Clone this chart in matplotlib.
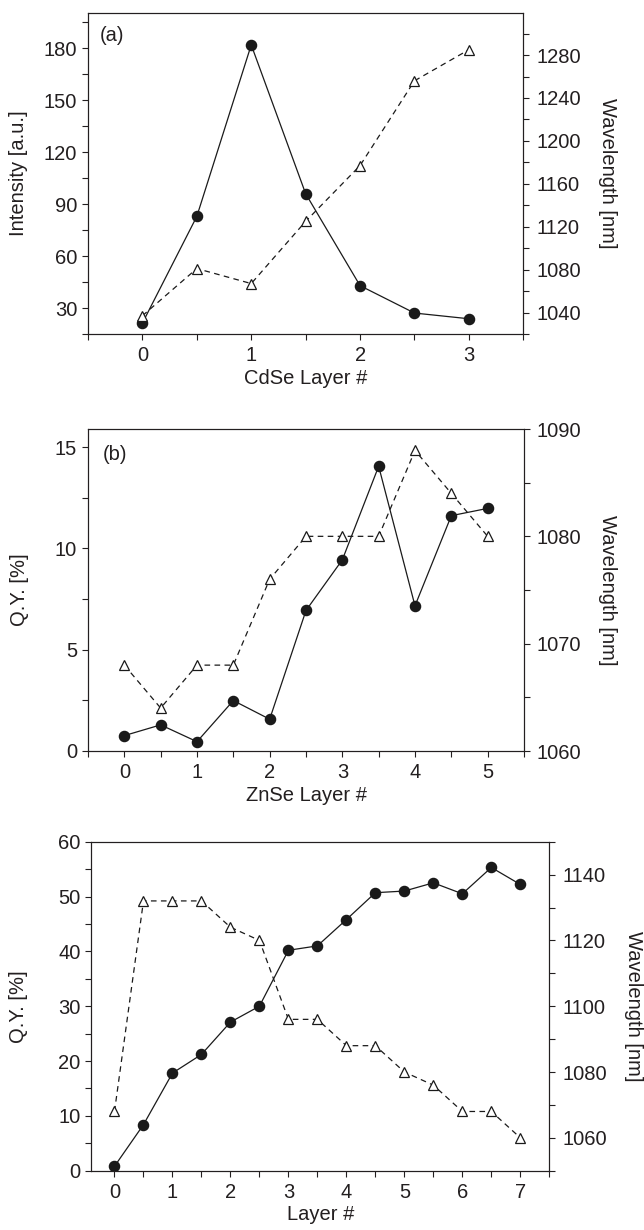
import matplotlib
matplotlib.use('Agg')
import matplotlib.pyplot as plt
from matplotlib.ticker import MultipleLocator

plt.rcParams['font.family'] = ['Liberation Sans', 'DejaVu Sans']
plt.rcParams['font.size'] = 14.5
plt.rcParams['text.color'] = '#231f20'
plt.rcParams['axes.labelcolor'] = '#231f20'
plt.rcParams['xtick.color'] = '#231f20'
plt.rcParams['ytick.color'] = '#231f20'

# panel (a): CdSe layers
layers_a = [0, 0.5, 1, 1.5, 2, 2.5, 3]
intensity_a = [21.3, 82.9, 181.9, 96.0, 42.9, 27.1, 23.8]
wavelength_a = [1037, 1081, 1067, 1125, 1177, 1256, 1285]

# panel (b): ZnSe layers
layers_b = [0, 0.5, 1, 1.5, 2, 2.5, 3, 3.5, 4, 4.5, 5]
qy_b = [0.76, 1.29, 0.46, 2.49, 1.57, 6.94, 9.44, 14.06, 7.17, 11.62, 11.98]
wavelength_b = [1068, 1064, 1068, 1068, 1076, 1080, 1080, 1080, 1088, 1084, 1080]

# panel (c): layers
layers_c = [0, 0.5, 1, 1.5, 2, 2.5, 3, 3.5, 4, 4.5, 5, 5.5, 6, 6.5, 7]
qy_c = [0.8, 8.4, 17.8, 21.2, 27.1, 30.0, 40.2, 41.0, 45.8, 50.7, 51.0, 52.5, 50.5, 55.3, 52.2]
wavelength_c = [1068, 1132, 1132, 1132, 1124, 1120, 1096, 1096, 1088, 1088, 1080, 1076, 1068, 1068, 1060]

INK = '#231f20'
W, H = 644, 1230


def style(ax, side):	# tick and spine look shared by every axis
	for sp in ax.spines.values():
		sp.set_linewidth(0.8)
		sp.set_color(INK)
	ax.tick_params(which='both', direction='out', length=4.3, width=0.8)
	if side == 'left':
		ax.tick_params(axis='y', which='both', left=True, right=False, pad=3.5)
		ax.tick_params(axis='x', which='both', bottom=True, top=False, pad=4.5)
	else:
		ax.tick_params(axis='y', which='both', right=True, left=False, pad=5)


def panel(box, x, y1, y2, xlim, ylim1, ylim2, steps, xlabel, ylabel, tag=None, tagpos=None, rlab=1.17):
	l, r, t, b = box	# pixel edges of the axes
	ax = plt.axes([l / W, (H - b) / H, (r - l) / W, (b - t) / H])
	ax2 = ax.twinx()

	ax.plot(x, y1, '-', color='#1a1a1a', lw=0.9, marker='o', ms=7.3, mfc='#1a1a1a', mec='#1a1a1a')
	ax2.plot(x, y2, color='#1a1a1a', lw=0.9, ls=(0, (4.5, 3.5)), marker='^', ms=7.5,
	         mfc='white', mec='#1a1a1a', mew=0.9)

	ax.set_xlim(*xlim)
	ax.set_ylim(*ylim1)
	ax2.set_ylim(*ylim2)

	ax.xaxis.set_major_locator(MultipleLocator(1))
	ax.xaxis.set_minor_locator(MultipleLocator(0.5))
	ax.yaxis.set_major_locator(MultipleLocator(steps[0]))
	ax.yaxis.set_minor_locator(MultipleLocator(steps[0] / 2))
	ax2.yaxis.set_major_locator(MultipleLocator(steps[1]))
	ax2.yaxis.set_minor_locator(MultipleLocator(steps[1] / 2))

	style(ax, 'left')
	style(ax2, 'right')

	ax.set_xlabel(xlabel, labelpad=2.5)
	ax.set_ylabel(ylabel)
	ax.yaxis.set_label_coords((28.5 - l) / (r - l), 0.5)
	ax2.set_ylabel('Wavelength [nm]', rotation=270, va='bottom')
	ax2.yaxis.set_label_coords(rlab, 0.5)

	if tag:
		ax.text(tagpos[0], tagpos[1], tag, transform=ax.transAxes, ha='left', va='top')
	return ax, ax2


fig = plt.figure(figsize=(W / 100, H / 100), dpi=100)

panel((88, 523.3, 12.7, 334), layers_a, intensity_a, wavelength_a,
      (-0.5, 3.5), (15, 200.5), (1020, 1319.5), (30, 40),
      'CdSe Layer #', 'Intensity [a.u.]', '(a)', (0.026, 0.96), rlab=1.1716)

panel((88, 524, 429, 751), layers_b, qy_b, wavelength_b,
      (-0.5, 5.5), (0, 15.9), (1060, 1090), (5, 10),
      'ZnSe Layer #', 'Q.Y. [%]', '(b)', (0.033, 0.95), rlab=1.1697)

panel((91.3, 549.3, 841.7, 1170.7), layers_c, qy_c, wavelength_c,
      (-0.4, 7.5), (0, 60), (1050, 1150), (10, 20),
      'Layer #', 'Q.Y. [%]', rlab=1.163)

fig.savefig('out.png', dpi=100)
